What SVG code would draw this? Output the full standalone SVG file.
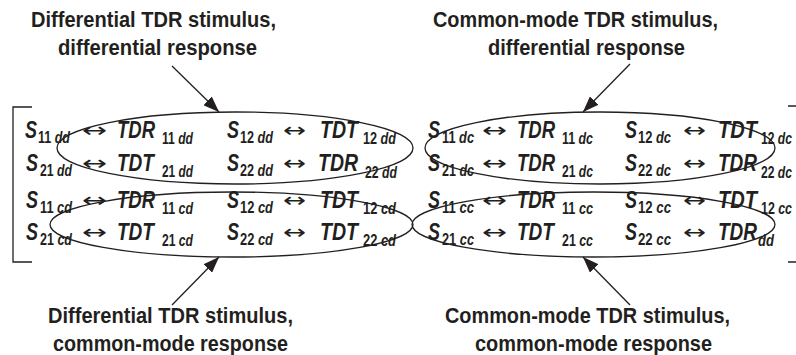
<svg xmlns="http://www.w3.org/2000/svg" width="796" height="355" viewBox="0 0 796 355">
<defs>
<marker id="ah" viewBox="0 0 16 12" refX="16" refY="6" markerWidth="16" markerHeight="12" markerUnits="userSpaceOnUse" orient="auto">
<path d="M0,0 L16,6 L0,12 z" fill="#231f20"/>
</marker>
<style>
text{fill:#231f20;font-family:"Liberation Sans",Arial,sans-serif;font-weight:bold}
.t{font-size:22.5px}
.m{font-size:23px;font-style:italic}
.s{font-size:16.5px}
.s .i{font-style:italic}
.a{font-family:"DejaVu Sans",sans-serif;font-weight:normal;font-size:20px}
.e{fill:none;stroke:#231f20;stroke-width:1.3}
.br{fill:none;stroke:#231f20;stroke-width:1.3}
.c{fill:none;stroke:#231f20;stroke-width:1.3;marker-end:url(#ah)}
</style>
</defs>
<rect width="796" height="355" fill="#fff"/>

<g id="brackets">
<path class="br" d="M32,107 H13 V262 H32"/>
<path class="br" d="M788,106 H796 M788,262 H796"/>
</g>

<g id="matrix">
<!-- row 1 -->
<text class="m" x="25" y="138" textLength="12" lengthAdjust="spacingAndGlyphs">S</text><text class="s" x="38" y="143" textLength="32" lengthAdjust="spacingAndGlyphs">11<tspan class="i"> dd</tspan></text>
<text class="a" x="82" y="137" textLength="25" lengthAdjust="spacingAndGlyphs">↔</text>
<text class="m" x="117" y="138" textLength="38" lengthAdjust="spacingAndGlyphs">TDR</text><text class="s" x="162" y="144" textLength="31" lengthAdjust="spacingAndGlyphs">11<tspan class="i"> dd</tspan></text>
<text class="m" x="227" y="138" textLength="12" lengthAdjust="spacingAndGlyphs">S</text><text class="s" x="240" y="143" textLength="33" lengthAdjust="spacingAndGlyphs">12<tspan class="i"> dd</tspan></text>
<text class="a" x="283" y="137" textLength="23" lengthAdjust="spacingAndGlyphs">↔</text>
<text class="m" x="320" y="138" textLength="38" lengthAdjust="spacingAndGlyphs">TDT</text><text class="s" x="363" y="144" textLength="33" lengthAdjust="spacingAndGlyphs">12<tspan class="i"> dd</tspan></text>
<text class="m" x="428" y="138" textLength="12" lengthAdjust="spacingAndGlyphs">S</text><text class="s" x="442" y="143" textLength="32" lengthAdjust="spacingAndGlyphs">11<tspan class="i"> dc</tspan></text>
<text class="a" x="482" y="137" textLength="25" lengthAdjust="spacingAndGlyphs">↔</text>
<text class="m" x="517" y="138" textLength="38" lengthAdjust="spacingAndGlyphs">TDR</text><text class="s" x="562" y="144" textLength="31" lengthAdjust="spacingAndGlyphs">11<tspan class="i"> dc</tspan></text>
<text class="m" x="625" y="138" textLength="12" lengthAdjust="spacingAndGlyphs">S</text><text class="s" x="638" y="143" textLength="33" lengthAdjust="spacingAndGlyphs">12<tspan class="i"> dc</tspan></text>
<text class="a" x="683" y="137" textLength="23" lengthAdjust="spacingAndGlyphs">↔</text>
<text class="m" x="718" y="138" textLength="39" lengthAdjust="spacingAndGlyphs">TDT</text><text class="s" x="761" y="144" textLength="31" lengthAdjust="spacingAndGlyphs">12<tspan class="i"> dc</tspan></text>
<!-- row 2 -->
<text class="m" x="26" y="171" textLength="12" lengthAdjust="spacingAndGlyphs">S</text><text class="s" x="40" y="176" textLength="32" lengthAdjust="spacingAndGlyphs">21<tspan class="i"> dd</tspan></text>
<text class="a" x="82" y="170" textLength="25" lengthAdjust="spacingAndGlyphs">↔</text>
<text class="m" x="117" y="171" textLength="37" lengthAdjust="spacingAndGlyphs">TDT</text><text class="s" x="162" y="177" textLength="31" lengthAdjust="spacingAndGlyphs">21<tspan class="i"> dd</tspan></text>
<text class="m" x="227" y="171" textLength="12" lengthAdjust="spacingAndGlyphs">S</text><text class="s" x="240" y="176" textLength="33" lengthAdjust="spacingAndGlyphs">22<tspan class="i"> dd</tspan></text>
<text class="a" x="283" y="170" textLength="23" lengthAdjust="spacingAndGlyphs">↔</text>
<text class="m" x="318" y="171" textLength="40" lengthAdjust="spacingAndGlyphs">TDR</text><text class="s" x="365" y="178" textLength="32" lengthAdjust="spacingAndGlyphs">22<tspan class="i"> dd</tspan></text>
<text class="m" x="428" y="171" textLength="12" lengthAdjust="spacingAndGlyphs">S</text><text class="s" x="442" y="176" textLength="32" lengthAdjust="spacingAndGlyphs">21<tspan class="i"> dc</tspan></text>
<text class="a" x="482" y="170" textLength="25" lengthAdjust="spacingAndGlyphs">↔</text>
<text class="m" x="517" y="171" textLength="38" lengthAdjust="spacingAndGlyphs">TDR</text><text class="s" x="562" y="177" textLength="31" lengthAdjust="spacingAndGlyphs">21<tspan class="i"> dc</tspan></text>
<text class="m" x="625" y="171" textLength="12" lengthAdjust="spacingAndGlyphs">S</text><text class="s" x="638" y="176" textLength="33" lengthAdjust="spacingAndGlyphs">22<tspan class="i"> dc</tspan></text>
<text class="a" x="683" y="170" textLength="23" lengthAdjust="spacingAndGlyphs">↔</text>
<text class="m" x="718" y="171" textLength="39" lengthAdjust="spacingAndGlyphs">TDR</text><text class="s" x="761" y="178" textLength="31" lengthAdjust="spacingAndGlyphs">22<tspan class="i"> dc</tspan></text>
<!-- row 3 -->
<text class="m" x="26" y="208" textLength="12" lengthAdjust="spacingAndGlyphs">S</text><text class="s" x="40" y="213" textLength="32" lengthAdjust="spacingAndGlyphs">11<tspan class="i"> cd</tspan></text>
<text class="a" x="82" y="207" textLength="25" lengthAdjust="spacingAndGlyphs">↔</text>
<text class="m" x="117" y="208" textLength="38" lengthAdjust="spacingAndGlyphs">TDR</text><text class="s" x="162" y="214" textLength="31" lengthAdjust="spacingAndGlyphs">11<tspan class="i"> cd</tspan></text>
<text class="m" x="227" y="208" textLength="12" lengthAdjust="spacingAndGlyphs">S</text><text class="s" x="240" y="213" textLength="33" lengthAdjust="spacingAndGlyphs">12<tspan class="i"> cd</tspan></text>
<text class="a" x="283" y="207" textLength="23" lengthAdjust="spacingAndGlyphs">↔</text>
<text class="m" x="320" y="208" textLength="38" lengthAdjust="spacingAndGlyphs">TDT</text><text class="s" x="363" y="214" textLength="33" lengthAdjust="spacingAndGlyphs">12<tspan class="i"> cd</tspan></text>
<text class="m" x="428" y="208" textLength="12" lengthAdjust="spacingAndGlyphs">S</text><text class="s" x="442" y="213" textLength="32" lengthAdjust="spacingAndGlyphs">11<tspan class="i"> cc</tspan></text>
<text class="a" x="482" y="207" textLength="25" lengthAdjust="spacingAndGlyphs">↔</text>
<text class="m" x="517" y="208" textLength="38" lengthAdjust="spacingAndGlyphs">TDR</text><text class="s" x="562" y="214" textLength="31" lengthAdjust="spacingAndGlyphs">11<tspan class="i"> cc</tspan></text>
<text class="m" x="625" y="208" textLength="12" lengthAdjust="spacingAndGlyphs">S</text><text class="s" x="638" y="213" textLength="33" lengthAdjust="spacingAndGlyphs">12<tspan class="i"> cc</tspan></text>
<text class="a" x="683" y="207" textLength="23" lengthAdjust="spacingAndGlyphs">↔</text>
<text class="m" x="718" y="208" textLength="39" lengthAdjust="spacingAndGlyphs">TDT</text><text class="s" x="761" y="214" textLength="31" lengthAdjust="spacingAndGlyphs">12<tspan class="i"> cc</tspan></text>
<!-- row 4 -->
<text class="m" x="26" y="240" textLength="12" lengthAdjust="spacingAndGlyphs">S</text><text class="s" x="40" y="245" textLength="32" lengthAdjust="spacingAndGlyphs">21<tspan class="i"> cd</tspan></text>
<text class="a" x="82" y="239" textLength="25" lengthAdjust="spacingAndGlyphs">↔</text>
<text class="m" x="117" y="240" textLength="37" lengthAdjust="spacingAndGlyphs">TDT</text><text class="s" x="162" y="246" textLength="31" lengthAdjust="spacingAndGlyphs">21<tspan class="i"> cd</tspan></text>
<text class="m" x="227" y="240" textLength="12" lengthAdjust="spacingAndGlyphs">S</text><text class="s" x="240" y="245" textLength="33" lengthAdjust="spacingAndGlyphs">22<tspan class="i"> cd</tspan></text>
<text class="a" x="283" y="239" textLength="23" lengthAdjust="spacingAndGlyphs">↔</text>
<text class="m" x="320" y="240" textLength="38" lengthAdjust="spacingAndGlyphs">TDT</text><text class="s" x="363" y="246" textLength="33" lengthAdjust="spacingAndGlyphs">22<tspan class="i"> cd</tspan></text>
<text class="m" x="428" y="240" textLength="12" lengthAdjust="spacingAndGlyphs">S</text><text class="s" x="442" y="245" textLength="32" lengthAdjust="spacingAndGlyphs">21<tspan class="i"> cc</tspan></text>
<text class="a" x="482" y="239" textLength="25" lengthAdjust="spacingAndGlyphs">↔</text>
<text class="m" x="517" y="240" textLength="37" lengthAdjust="spacingAndGlyphs">TDT</text><text class="s" x="562" y="246" textLength="31" lengthAdjust="spacingAndGlyphs">21<tspan class="i"> cc</tspan></text>
<text class="m" x="625" y="240" textLength="12" lengthAdjust="spacingAndGlyphs">S</text><text class="s" x="638" y="245" textLength="33" lengthAdjust="spacingAndGlyphs">22<tspan class="i"> cc</tspan></text>
<text class="a" x="683" y="239" textLength="23" lengthAdjust="spacingAndGlyphs">↔</text>
<text class="m" x="718" y="240" textLength="39" lengthAdjust="spacingAndGlyphs">TDR</text><text class="s" x="758" y="246" textLength="16" lengthAdjust="spacingAndGlyphs"><tspan class="i">dd</tspan></text>
</g>

<g id="ell-dd"><ellipse class="e" cx="235" cy="148" rx="178" ry="36"/></g>
<g id="ell-dc"><ellipse class="e" cx="600" cy="148" rx="175" ry="36"/></g>
<g id="ell-cd"><ellipse class="e" cx="231.5" cy="224.5" rx="181.5" ry="32.5"/></g>
<g id="ell-cc"><ellipse class="e" cx="593.5" cy="224.5" rx="181.5" ry="32.5"/></g>

<g id="label-dd">
<text class="t" x="153.5" y="27" text-anchor="middle" textLength="245" lengthAdjust="spacingAndGlyphs">Differential TDR stimulus,</text>
<text class="t" x="157.5" y="55" text-anchor="middle" textLength="199" lengthAdjust="spacingAndGlyphs">differential response</text>
</g>
<g id="label-dc">
<text class="t" x="575.5" y="27" text-anchor="middle" textLength="285" lengthAdjust="spacingAndGlyphs">Common-mode TDR stimulus,</text>
<text class="t" x="586.5" y="55" text-anchor="middle" textLength="197" lengthAdjust="spacingAndGlyphs">differential response</text>
</g>
<g id="label-cd">
<text class="t" x="170.5" y="323" text-anchor="middle" textLength="245" lengthAdjust="spacingAndGlyphs">Differential TDR stimulus,</text>
<text class="t" x="170.5" y="351" text-anchor="middle" textLength="235" lengthAdjust="spacingAndGlyphs">common-mode response</text>
</g>
<g id="label-cc">
<text class="t" x="587.5" y="323" text-anchor="middle" textLength="285" lengthAdjust="spacingAndGlyphs">Common-mode TDR stimulus,</text>
<text class="t" x="593.5" y="351" text-anchor="middle" textLength="237" lengthAdjust="spacingAndGlyphs">common-mode response</text>
</g>

<g id="connectors">
<line class="c" x1="172" y1="66" x2="219" y2="112"/>
<line class="c" x1="630" y1="64" x2="583" y2="112"/>
<line class="c" x1="172" y1="305" x2="219" y2="257"/>
<line class="c" x1="630" y1="305" x2="583" y2="257"/>
</g>
</svg>
